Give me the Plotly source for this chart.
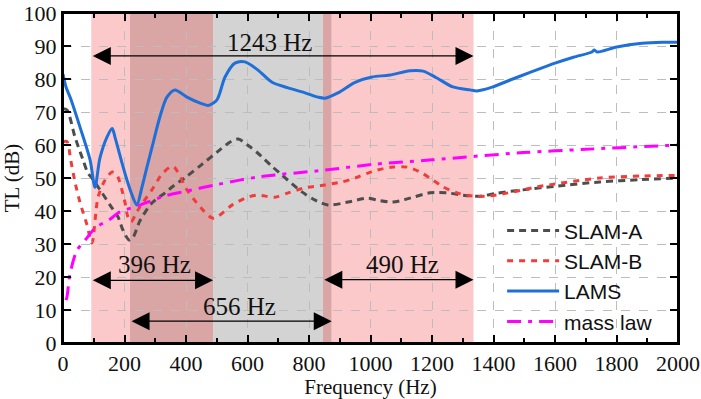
import plotly.graph_objects as go

# ---------------- data ----------------
lams_f = [0, 10, 25, 55, 88, 104, 120, 143, 160, 169, 192, 208, 224, 240, 257, 273, 293, 315, 338, 364,
          403, 446, 472, 500, 527, 559, 592, 634, 680, 732, 787, 829, 852, 894, 950, 1005, 1063, 1128,
          1171, 1216, 1268, 1324, 1346, 1398, 1454, 1519, 1600, 1660, 1720, 1727, 1737, 1801, 1883, 1950, 2000]
lams_tl = [81.5, 77.5, 74, 65.5, 55.5, 47.2, 56, 62.4, 65, 62.4, 54.5, 49.4, 45, 41.8, 47.3, 53.3, 60.6,
           68.5, 74.5, 76.7, 74.5, 72.7, 72, 73.6, 80.6, 84.8, 85.2, 82.7, 79, 77.3, 75.8, 74.5, 74.2,
           75.8, 79, 80.6, 81.2, 82.5, 82.4, 80.3, 77.6, 76.7, 76.4, 77.6, 79.7, 82, 84.8, 86.6, 88.2,
           88.8, 88.2, 89.7, 90.8, 91.1, 91.1]

slam_a_f = [0, 13, 39, 65, 81, 94, 127, 153, 179, 195, 215, 228, 250, 289, 332, 358, 403, 450, 510,
            545, 570, 600, 634, 680, 712, 777, 820, 862, 927, 992, 1021, 1073, 1128, 1193, 1248, 1301,
            1356, 1411, 1496, 1600, 1746, 1880, 2000]
slam_a_tl = [71, 70.6, 62.4, 55.5, 51.5, 50, 45.5, 41.8, 38.2, 34.2, 31.2, 32, 37, 42.4, 45.5, 47.5,
             50.5, 54, 58.5, 61, 61.8, 60, 57.5, 53.5, 50.9, 45.8, 43.3, 41.8, 42.7, 43.9, 43.3, 42.7,
             43.9, 45.5, 45.5, 44.8, 44.5, 45.4, 46.4, 47.5, 48.8, 49.5, 50]

slam_b_f = [0, 13, 25, 39, 55, 78, 94, 114, 137, 160, 175, 202, 211, 222, 235, 250, 289, 325, 358,
            403, 436, 488, 553, 602, 634, 689, 732, 787, 852, 907, 950, 992, 1021, 1073, 1119, 1161,
            1193, 1236, 1281, 1333, 1379, 1431, 1496, 1541, 1746, 1883, 2000]
slam_b_tl = [61, 61, 55.5, 48.8, 42.7, 35.8, 30.3, 44.2, 49.4, 51.8, 51, 42.4, 38.2, 36.7, 38.8, 41.2,
             46.4, 51.5, 53.5, 46.4, 42.4, 37.8, 42, 44.2, 44.8, 44.2, 45.5, 47, 47.9, 48.8, 50, 51.5,
             52.4, 53.3, 53.3, 51.8, 50, 47.3, 45.5, 44.5, 44.5, 45.2, 46.4, 47.3, 50, 50.6, 50.8]

mass_f = [10, 13, 23, 45, 75, 104, 153, 179, 250, 332, 400, 500, 634, 852, 1015, 1200, 1496, 1700, 2000]
mass_tl = [13, 14, 21, 28, 31.5, 34.8, 37.5, 39.4, 41.8, 44.6, 46, 48, 50.3, 52.4, 54.2, 55.5, 57.7, 58.7, 60]

# bandwidth ranges (Hz) and their labels
bw_labels = ["1243 Hz", "396 Hz", "656 Hz", "490 Hz"]
bw_start = [92, 92, 218, 845]
bw_end = [1335, 488, 874, 1335]
bw_arrow_y = [87, 19, 6.6, 19.2]
bw_text_x = [673, 296, 573, 1103]
bw_text_y = [91.2, 23.8, 11, 23.8]

x_ticks = list(range(0, 2001, 200))
y_ticks = list(range(0, 101, 10))

# ---------------- figure ----------------
fig = go.Figure()

# shaded bands built from the 396 / 656 / 490 Hz ranges
pink_ranges = [(bw_start[1], bw_end[1]), (bw_start[3], bw_end[3])]
gray_ranges = [(bw_start[2], bw_end[2])]
bounds = sorted(set([a for r in pink_ranges + gray_ranges for a in r]))
for a, b in zip(bounds[:-1], bounds[1:]):
    mid = (a + b) / 2
    in_p = any(s <= mid <= e for s, e in pink_ranges)
    in_g = any(s <= mid <= e for s, e in gray_ranges)
    if in_p and in_g:
        col = "rgb(217,165,165)"
    elif in_p:
        col = "rgb(251,201,201)"
    elif in_g:
        col = "rgb(211,211,211)"
    else:
        continue
    fig.add_shape(type="rect", xref="x", yref="y", x0=a, x1=b, y0=0, y1=100,
                  fillcolor=col, line_width=0, layer="below")

fig.add_trace(go.Scatter(x=slam_a_f, y=slam_a_tl, name="SLAM-A", mode="lines",
                         line=dict(color="#4d4d4d", width=3, dash="7px,5px", shape="spline", smoothing=0.8)))
fig.add_trace(go.Scatter(x=slam_b_f, y=slam_b_tl, name="SLAM-B", mode="lines",
                         line=dict(color="#f23c3c", width=3, dash="6px,6px", shape="spline", smoothing=0.8)))
fig.add_trace(go.Scatter(x=lams_f, y=lams_tl, name="LAMS", mode="lines",
                         line=dict(color="#1f6fd8", width=3, shape="spline", smoothing=0.8)))
fig.add_trace(go.Scatter(x=mass_f, y=mass_tl, name="mass law", mode="lines",
                         line=dict(color="#ff00ff", width=3, dash="14px,7px,4px,7px", shape="spline",
                                   smoothing=0.8)))

serif = "Liberation Serif, Times New Roman, serif"
for lab, x0, x1, ya, tx, ty in zip(bw_labels, bw_start, bw_end, bw_arrow_y, bw_text_x, bw_text_y):
    fig.add_annotation(x=x1, y=ya, ax=x0, ay=ya, xref="x", yref="y", axref="x", ayref="y",
                       showarrow=True, arrowside="end+start", arrowhead=2, arrowsize=3,
                       arrowwidth=1.2, arrowcolor="black", text="")
    fig.add_annotation(x=tx, y=ty, xref="x", yref="y", text=lab, showarrow=False,
                       font=dict(family=serif, size=25, color="#111"))

# frame around the plotting area (top and right edges)
fig.add_shape(type="rect", xref="x domain", yref="y domain", x0=0, x1=1, y0=0, y1=1,
              line=dict(color="black", width=2), fillcolor="rgba(0,0,0,0)", layer="above")

axis_common = dict(showline=True, linecolor="black", linewidth=2, mirror="ticks",
                   ticks="inside", ticklen=8, tickwidth=2, tickcolor="black",
                   showgrid=True, gridcolor="#bdbdbd", gridwidth=1, griddash="dash",
                   zeroline=False, automargin=False,
                   tickfont=dict(family=serif, size=22, color="#111"))

fig.update_xaxes(range=[0, 2000], tickvals=x_ticks, title_text="Frequency (Hz)",
                 title_font=dict(family=serif, size=21, color="#111"), title_standoff=4,
                 minor=dict(dtick=100, ticks="inside", ticklen=5, tickwidth=2, tickcolor="black",
                            showgrid=False),
                 **axis_common)
fig.update_yaxes(range=[0, 100], tickvals=y_ticks, title_text="TL (dB)",
                 title_font=dict(family=serif, size=21, color="#111"), title_standoff=2,
                 **axis_common)

fig.update_layout(
    width=701, height=399,
    margin=dict(l=63, r=23, t=13, b=56),
    paper_bgcolor="white", plot_bgcolor="white",
    showlegend=True,
    legend=dict(x=0.714, y=0.402, xanchor="left", yanchor="top", bgcolor="rgba(0,0,0,0)",
                font=dict(family="Liberation Sans, Arial, sans-serif", size=21, color="#111"),
                itemwidth=52, tracegroupgap=0),
)

# remove the browser's default 8 px page margin so the figure fills the 701x399 window
fig.write_html("out.html", config={"displayModeBar": False},
               post_script="document.body.style.margin='0px';")
